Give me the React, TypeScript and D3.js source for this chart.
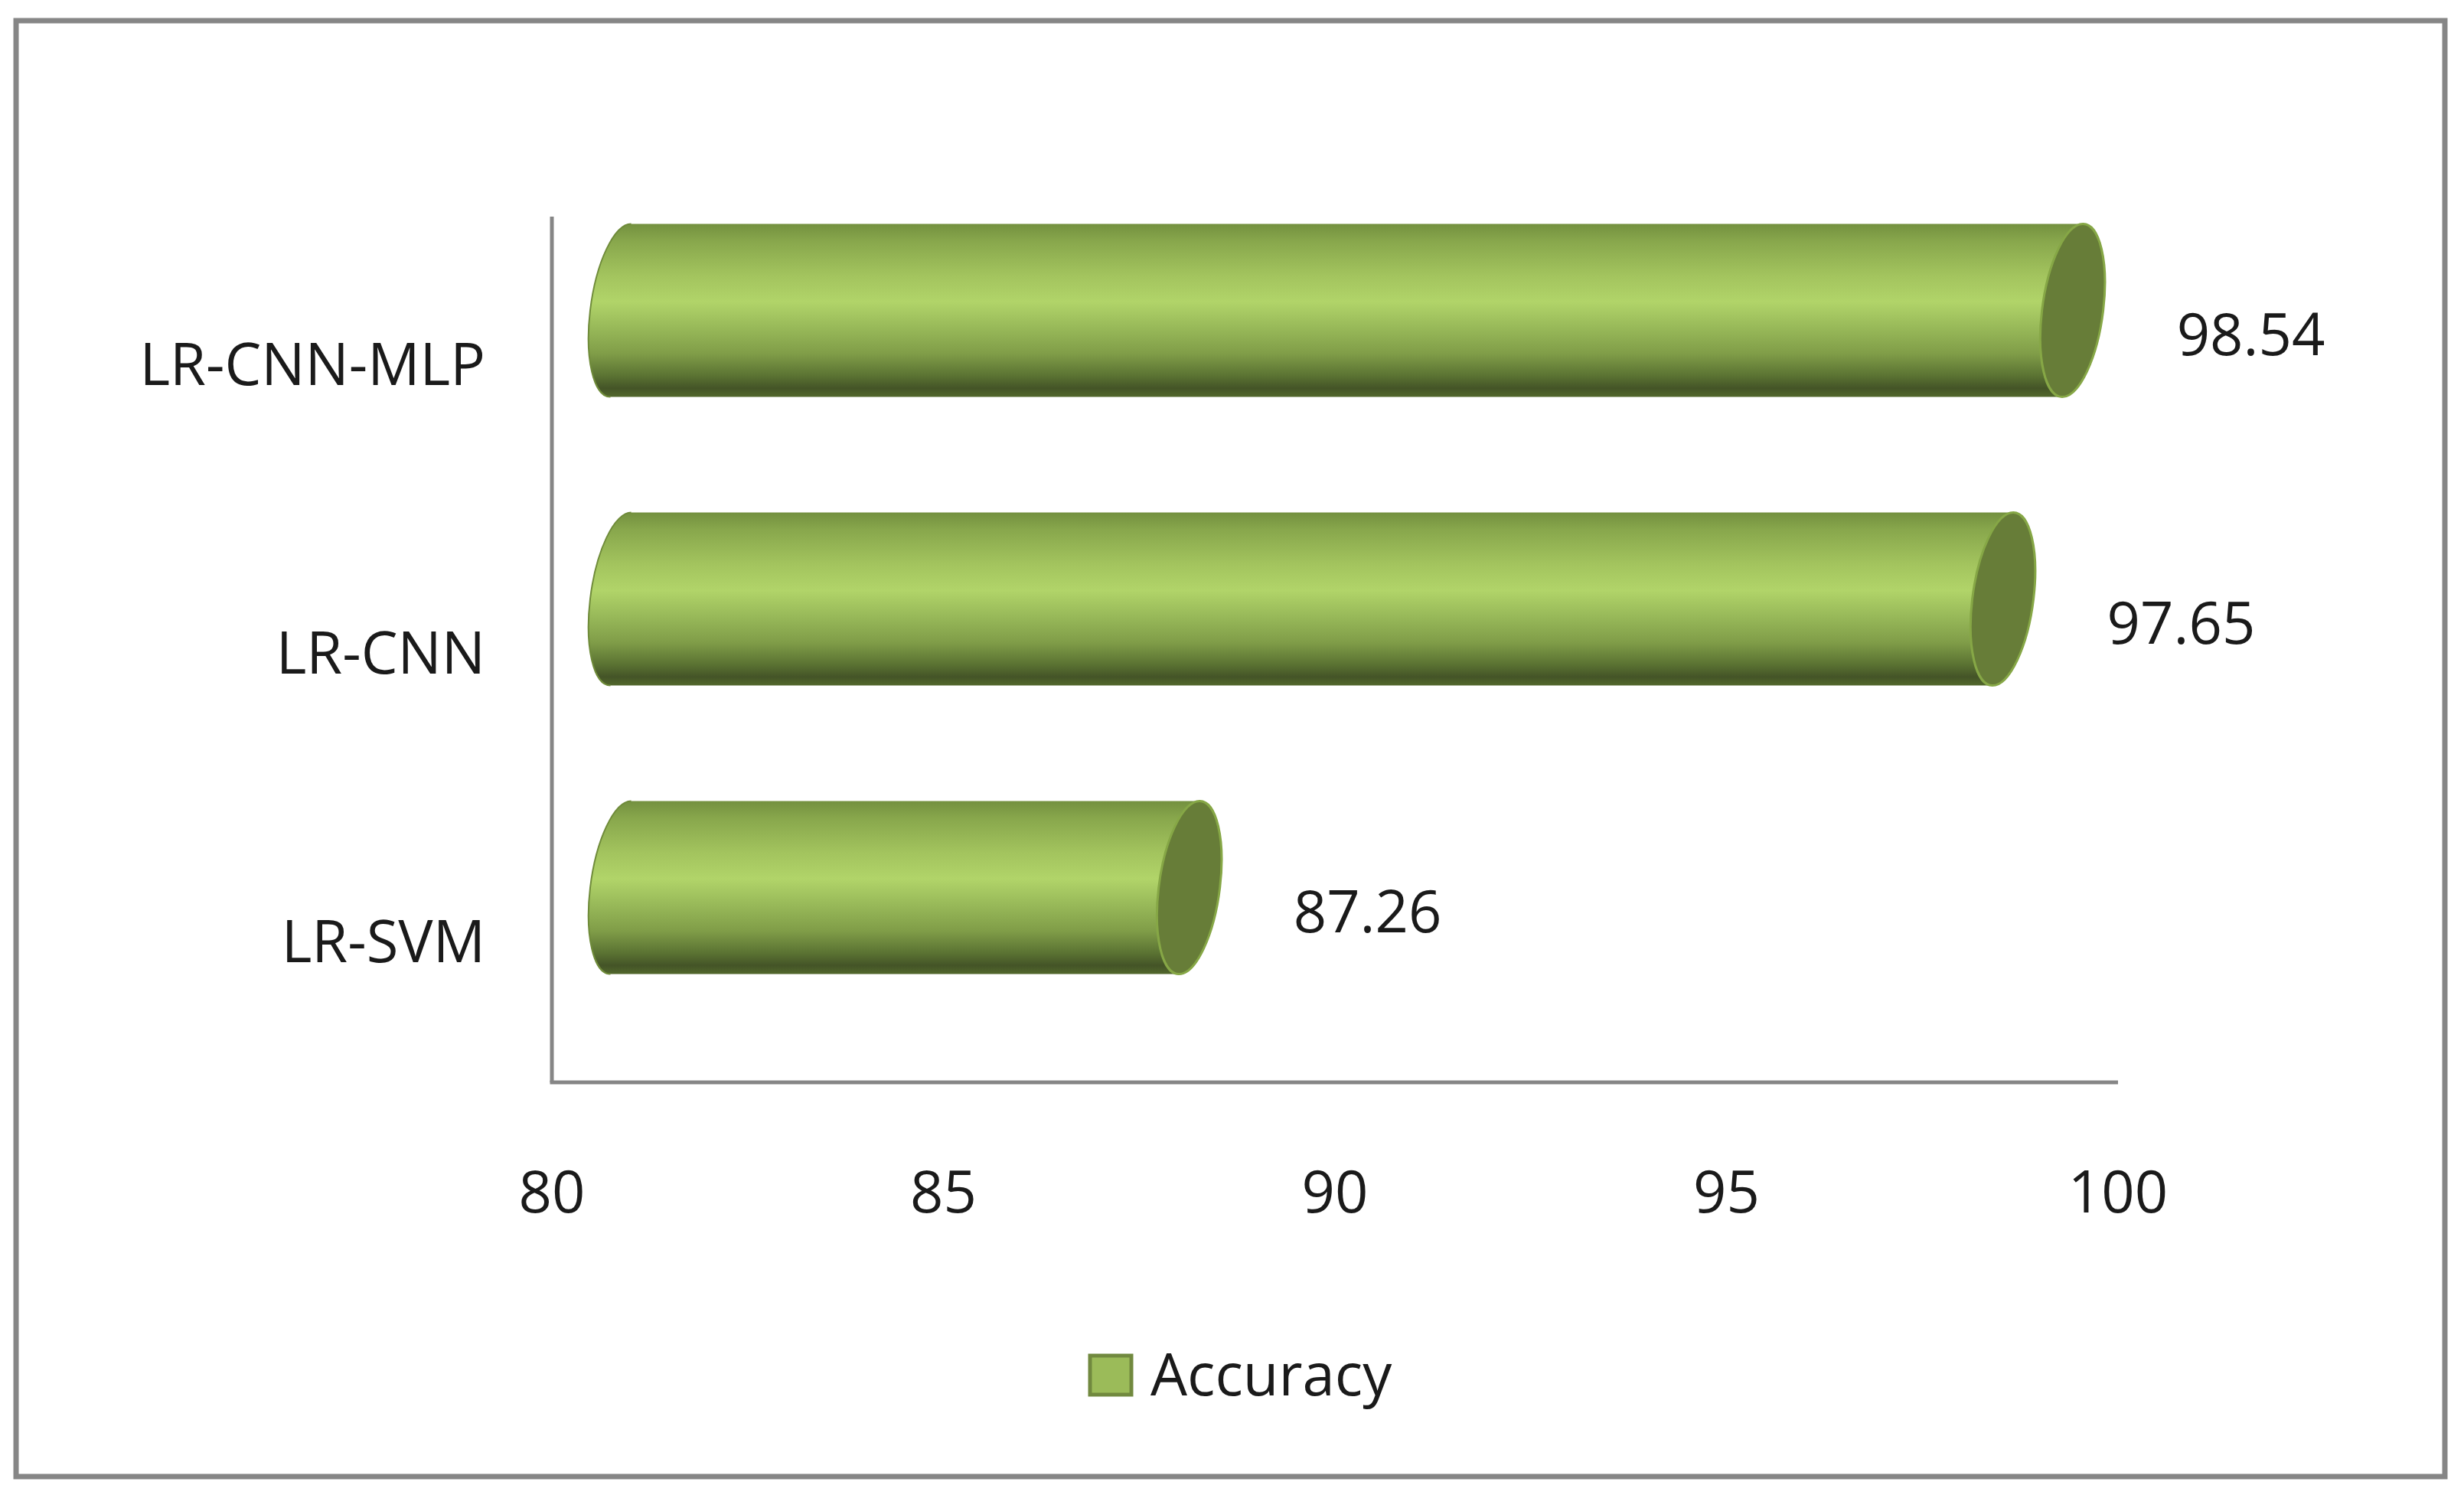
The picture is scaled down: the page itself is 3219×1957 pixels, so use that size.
import React from 'react';
import * as d3 from 'd3';

const categories = ['LR-CNN-MLP', 'LR-CNN', 'LR-SVM'];
const accuracy = [98.54, 97.65, 87.26];
const xTicks = [80, 85, 90, 95, 100];
const seriesName = 'Accuracy';

const W = 3219;
const H = 1957;
const FONT = '"Open Sans", "Noto Sans", sans-serif';

export default function App() {
  const x = d3.scaleLinear().domain([80, 100]).range([721, 2767]);
  const y = d3.scaleBand<string>().domain(categories).range([283, 1414]).paddingInner(0.4).paddingOuter(0.2);
  const bw = y.bandwidth();
  const dx = 90; // 3D depth offset
  const dy = -66;
  const rx = 40;
  const ry = bw / 2;
  const skew = -6.8;

  return (
    <svg width={W} height={H} style={{ position: 'absolute', left: 0, top: 0, background: '#fff' }}>
      <defs>
        <linearGradient id="cyl" x1="0" y1="0" x2="0" y2="1">
          <stop offset="0%" stopColor="#73903f" />
          <stop offset="10%" stopColor="#88a74c" />
          <stop offset="30%" stopColor="#a3c45e" />
          <stop offset="45%" stopColor="#b1d469" />
          <stop offset="60%" stopColor="#98b959" />
          <stop offset="75%" stopColor="#809d48" />
          <stop offset="88%" stopColor="#5a7232" />
          <stop offset="95%" stopColor="#445427" />
          <stop offset="100%" stopColor="#52682c" />
        </linearGradient>
      </defs>
      <rect x={0} y={0} width={W} height={H} fill="#fff" />
      <rect x={21} y={27} width={3173} height={1902} fill="#fff" stroke="#868686" strokeWidth={7} />

      {/* axes */}
      <line x1={x(80)} x2={x(80)} y1={283} y2={1414} stroke="#868686" strokeWidth={5} />
      <line x1={x(80) - 2.5} x2={x(100)} y1={1414} y2={1414} stroke="#868686" strokeWidth={5} />

      {/* x tick labels */}
      {xTicks.map((t) => (
        <text key={t} x={x(t)} y={1584} textAnchor="middle" fontFamily={FONT} fontSize={76} fill="#1a1a1a">
          {t}
        </text>
      ))}

      {/* category labels */}
      {categories.map((c) => (
        <text key={c} x={634} y={(y(c) as number) + bw / 2 + 31} textAnchor="end" fontFamily={FONT} fontSize={76} fill="#1a1a1a">
          {c}
        </text>
      ))}

      {/* cylinders */}
      {categories.map((c, i) => {
        const v = accuracy[i];
        const yc = (y(c) as number) + bw / 2 + dy;
        const top = yc - ry;
        const bot = yc + ry;
        const x0 = x(80) + dx;
        const x1 = x(v) + dx;
        const body = `M${x0},${top} L${x1},${top} A${rx},${ry} 0 0 1 ${x1},${bot} L${x0},${bot} A${rx},${ry} 0 0 1 ${x0},${top} Z`;
        return (
          <g key={c}>
            <g transform={`translate(0,${yc}) skewX(${skew}) translate(0,${-yc})`}>
              <path d={body} fill="url(#cyl)" />
              <path d={`M${x0},${bot} A${rx},${ry} 0 0 1 ${x0},${top}`} fill="none" stroke="#6f8b3a" strokeWidth={2} />
              <ellipse cx={x1} cy={yc} rx={rx} ry={ry} fill="#677d38" stroke="#86a746" strokeWidth={3} />
            </g>
            <text x={x1 + rx + 96} y={yc + 30 + 28} textAnchor="start" fontFamily={FONT} fontSize={76} fill="#1a1a1a">
              {v.toFixed(2)}
            </text>
          </g>
        );
      })}

      {/* legend */}
      <rect x={1424} y={1771} width={54} height={51} fill="#9bbb59" stroke="#71893f" strokeWidth={5} />
      <text x={1503} y={1823} fontFamily={FONT} fontSize={76} fill="#1a1a1a">
        {seriesName}
      </text>
    </svg>
  );
}
